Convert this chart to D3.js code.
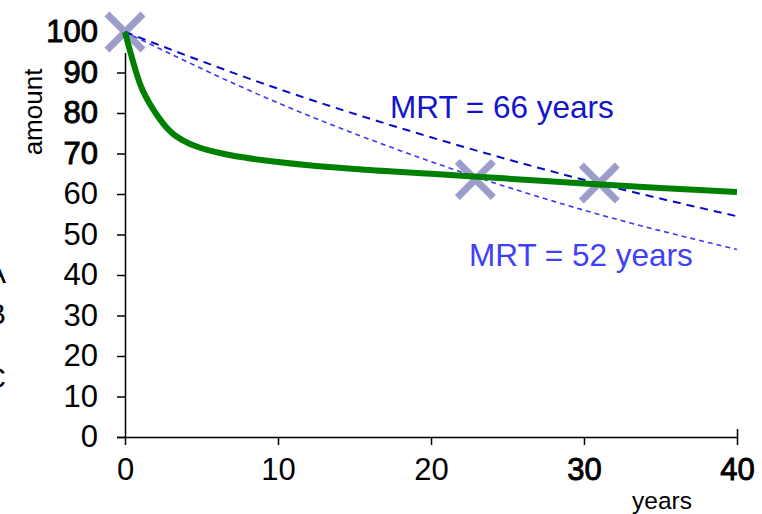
<!DOCTYPE html>
<html><head><meta charset="utf-8">
<script src="https://cdn.jsdelivr.net/npm/d3@7"></script>
<style>body{margin:0;background:#fff}svg{display:block;font-family:"Liberation Sans",Arial,sans-serif}</style>
</head><body><svg id="c" width="762" height="514"></svg>
<script>
const years = [0,1,2,3,4,5,6,7,8,10,12,15,20,25,30,35,40];
const amount = [100,87,80,75.3,72.8,71.3,70.3,69.5,68.9,67.9,67.1,66.2,65,63.8,62.6,61.5,60.5];
const mrtYears = [0,10,20,30,40];
const mrt66 = [100,86,74,63.5,54.5];
const mrt52 = [100,82.5,68,56,46.3];
const markX = [0,22.9,31];
const markY = [100,63.6,62.7];
const yTicks = [0,10,20,30,40,50,60,70,80,90,100];
const yBold = [70,80,90,100];
const xTicks = [0,10,20,30,40];
const xBold = [30,40];
const sideLetters = ["A","B","C"];

const svg = d3.select("#c");
const x = d3.scaleLinear().domain([0,40]).range([125,737]);
const y = d3.scaleLinear().domain([0,100]).range([437,32]);
const FF = "Liberation Sans, Arial, sans-serif";

// axes
const ya = svg.append("g").attr("transform","translate(125,0)")
  .call(d3.axisLeft(y).tickValues(yTicks).tickSize(8).tickPadding(19).tickFormat(d3.format("d")));
ya.selectAll("text").attr("font-size",31).attr("fill","#000").attr("font-family",FF)
  .attr("stroke",d=>yBold.includes(d)?"#000":"none").attr("stroke-width",0.9);
const xa = svg.append("g").attr("transform","translate(0,437)")
  .call(d3.axisBottom(x).tickValues(xTicks).tickSize(8).tickPadding(13).tickFormat(d3.format("d")));
xa.selectAll("text").attr("font-size",31).attr("fill","#000").attr("font-family",FF)
  .attr("stroke",d=>xBold.includes(d)?"#000":"none").attr("stroke-width",0.9);
svg.selectAll(".domain").attr("stroke","#000").attr("stroke-width",1.5);
svg.selectAll(".tick line").attr("stroke","#000").attr("stroke-width",1.5);
xa.select(".domain").attr("d","M117,0.5H737.5V-8");
ya.select(".domain").attr("d","M0.5,"+y(0)+"V"+y(100));

// markers (first has white background hiding axis top)
const mk = svg.append("g");
markX.forEach((mx,i)=>{
  const cx=x(mx), cy=y(markY[i]);
  if(i===0) mk.append("rect").attr("x",cx-21).attr("y",cy-21).attr("width",42).attr("height",42).attr("fill","#fff");
  mk.append("path").attr("d",`M${cx-18},${cy-18}L${cx+18},${cy+18}M${cx+18},${cy-18}L${cx-18},${cy+18}`)
    .attr("stroke","#9d9dcc").attr("stroke-width",7).attr("fill","none");
});

// dashed MRT lines
const ln = d3.line().x((d,i)=>x(mrtYears[i])).y(d=>y(d)).curve(d3.curveMonotoneX);
svg.append("path").attr("d",ln(mrt52)).attr("fill","none").attr("stroke","#3a3af5").attr("stroke-width",1.6).attr("stroke-dasharray","5,4");
svg.append("path").attr("d",ln(mrt66)).attr("fill","none").attr("stroke","#0a0acc").attr("stroke-width",2).attr("stroke-dasharray","8,6");

// green curve
const gl = d3.line().x((d,i)=>x(years[i])).y(d=>y(d)).curve(d3.curveMonotoneX);
svg.append("path").attr("d",gl(amount)).attr("fill","none").attr("stroke","#008000").attr("stroke-width",6);

// labels
svg.append("text").attr("x",390).attr("y",118).attr("font-size",31.5).attr("fill","#1414cc").text("MRT = 66 years");
svg.append("text").attr("x",469).attr("y",266).attr("font-size",31.5).attr("fill","#4040f8").text("MRT = 52 years");
svg.append("text").attr("transform","translate(42,112) rotate(-90)").attr("text-anchor","middle").attr("font-size",26).attr("fill","#000").text("amount");
svg.append("text").attr("x",662).attr("y",509).attr("text-anchor","middle").attr("font-size",24.5).attr("fill","#000").text("years");
sideLetters.forEach((t,i)=>{
  svg.append("text").attr("x",6).attr("y",[283,324,388][i]).attr("text-anchor","end").attr("font-size",30).attr("fill","#000").text(t);
});
</script></body></html>
